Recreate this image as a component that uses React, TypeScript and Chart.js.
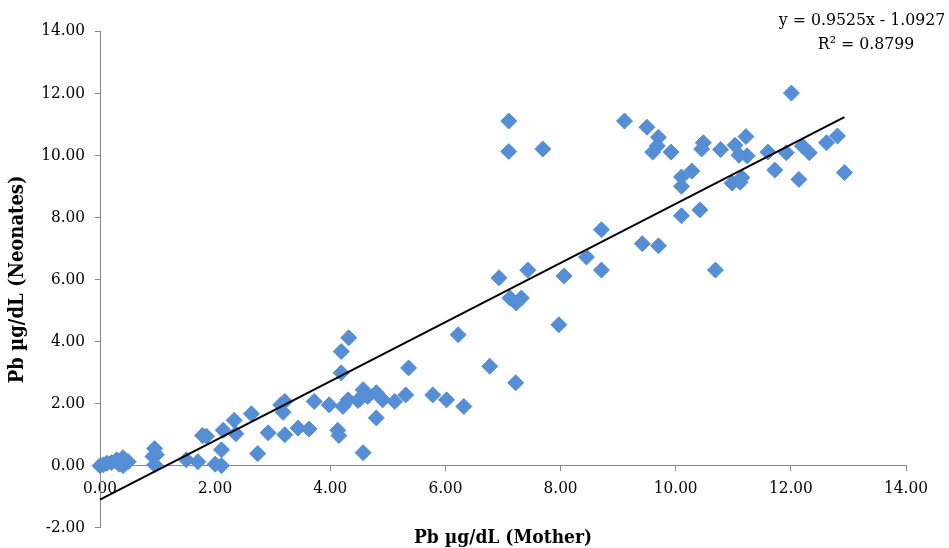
import React, { useEffect, useRef } from "react";
import { Chart, registerables } from "chart.js";

Chart.register(...registerables);

const motherPb: number[] = [
  0.0, 0.06, 0.12, 0.2, 0.29, 0.33, 0.4, 0.4, 0.49, 0.92, 0.95, 0.95, 0.98,
  1.5, 1.7, 1.78, 1.85, 2.0, 2.11, 2.11, 2.14, 2.33, 2.36, 2.63, 2.74, 2.92,
  3.14, 3.18, 3.21, 3.21, 3.44, 3.63, 3.72, 3.98, 4.13, 4.15, 4.19, 4.19, 4.22,
  4.31, 4.32, 4.48, 4.51, 4.57, 4.57, 4.65, 4.8, 4.8, 4.91, 5.12, 5.31, 5.36,
  5.78, 6.02, 6.22, 6.32, 6.77, 6.93, 7.1, 7.1, 7.12, 7.23, 7.22, 7.32, 7.43,
  7.69, 7.97, 8.06, 8.45, 8.71, 8.71, 9.11, 9.42, 9.5, 9.6, 9.68, 9.7, 9.7,
  9.92, 10.1, 10.1, 10.1, 10.28, 10.42, 10.45, 10.48, 10.69, 10.78, 10.98,
  11.03, 11.1, 11.12, 11.15, 11.22, 11.24, 11.6, 11.72, 11.92, 12.01, 12.14,
  12.2, 12.32, 12.62, 12.81, 12.93,
];

const neonatePb: number[] = [
  0.0, 0.03, 0.08, 0.1, 0.19, 0.05, 0.26, 0.0, 0.13, 0.3, 0.03, 0.55, 0.35,
  0.19, 0.13, 0.97, 0.95, 0.05, 0.0, 0.51, 1.14, 1.46, 1.03, 1.67, 0.39, 1.06,
  1.96, 1.72, 2.07, 1.0, 1.21, 1.18, 2.07, 1.96, 1.14, 0.97, 3.68, 2.99, 1.91,
  2.12, 4.12, 2.1, 2.15, 2.45, 0.42, 2.23, 2.35, 1.54, 2.12, 2.07, 2.28, 3.15,
  2.28, 2.12, 4.22, 1.91, 3.2, 6.05, 11.1, 10.12, 5.4, 5.24, 2.67, 5.4, 6.3,
  10.2, 4.54, 6.11, 6.72, 7.6, 6.3, 11.1, 7.15, 10.9, 10.1, 10.3, 10.58, 7.08,
  10.1, 9.3, 9.0, 8.05, 9.49, 8.24, 10.2, 10.4, 6.3, 10.18, 9.1, 10.32, 10.0,
  9.13, 9.28, 10.6, 9.98, 10.1, 9.52, 10.08, 12.0, 9.22, 10.3, 10.08, 10.4,
  10.62, 9.44,
];

const trendSlope = 0.9525;
const trendIntercept = -1.0927;
const trendR2 = 0.8799;

const xTitle = "Pb µg/dL (Mother)";
const yTitle = "Pb µg/dL (Neonates)";
const eqLine1 = "y = 0.9525x - 1.0927";
const eqLine2 = "R² = " + trendR2.toFixed(4);

const FONT = '"DejaVu Serif Condensed", "DejaVu Serif", "Liberation Serif", serif';

const trendLabel = {
  id: "trendLabel",
  afterDraw(chart: any) {
    const ctx = chart.ctx;
    const a = chart.chartArea;
    ctx.save();
    ctx.font = "17.5px " + FONT;
    ctx.fillStyle = "#000";
    ctx.textAlign = "center";
    ctx.textBaseline = "middle";
    ctx.fillText(eqLine1, a.right - 44, 20);
    ctx.fillText(eqLine2, a.right - 40, 44);
    ctx.restore();
  },
};

export default function App() {
  const ref = useRef<HTMLCanvasElement | null>(null);

  useEffect(() => {
    if (!ref.current) return;
    const pts = motherPb.map((x, i) => ({ x, y: neonatePb[i] }));
    const xMin = Math.min(...motherPb);
    const xMax = Math.max(...motherPb);
    const trend = [
      { x: xMin, y: trendSlope * xMin + trendIntercept },
      { x: xMax, y: trendSlope * xMax + trendIntercept },
    ];
    const chart = new Chart(ref.current, {
      type: "scatter",
      data: {
        datasets: [
          {
            type: "line",
            label: "trend",
            data: trend,
            borderColor: "#000",
            borderWidth: 2,
            pointRadius: 0,
            fill: false,
            order: 0,
            clip: false,
          } as any,
          {
            label: "Pb",
            data: pts,
            pointStyle: "rectRot",
            pointRadius: 8,
            pointHoverRadius: 8,
            backgroundColor: "#558ED5",
            borderColor: "#558ED5",
            borderWidth: 1,
            order: 1,
            clip: false,
          } as any,
        ],
      },
      options: {
        animation: false,
        responsive: false,
        events: [],
        layout: { padding: { top: 31, right: 43, left: 0, bottom: 0 } },
        plugins: {
          legend: { display: false },
          tooltip: { enabled: false },
          title: {
            display: true,
            position: "bottom",
            fullSize: false,
            text: xTitle,
            color: "#000",
            font: { family: FONT, size: 19, weight: "bold", lineHeight: 1.05 },
            padding: { top: 0, bottom: 0 },
          },
        },
        scales: {
          x: {
            type: "linear",
            min: 0,
            max: 14,
            position: { y: 0 } as any,
            ticks: {
              stepSize: 2,
              color: "#000",
              padding: 8,
              font: { family: FONT, size: 17 },
              callback: (v: any) => Number(v).toFixed(2),
              maxRotation: 0,
            },
            grid: {
              drawOnChartArea: false,
              drawTicks: true,
              tickLength: 5,
              color: "#868686",
            },
            border: { display: true, color: "#868686", width: 1 },
          },
          y: {
            type: "linear",
            min: -2,
            max: 14,
            ticks: {
              stepSize: 2,
              color: "#000",
              padding: 10,
              font: { family: FONT, size: 17 },
              callback: (v: any) => Number(v).toFixed(2),
            },
            grid: {
              drawOnChartArea: false,
              drawTicks: true,
              tickLength: 5,
              color: "#868686",
            },
            border: { display: true, color: "#868686", width: 1 },
            title: {
              display: true,
              text: yTitle,
              color: "#000",
              font: { family: FONT, size: 20, weight: "bold" },
              padding: { top: 6, bottom: 0 },
            },
            afterFit: (scale: any) => {
              scale.width = 100;
            },
          },
        },
      },
      plugins: [trendLabel],
    });
    return () => chart.destroy();
  }, []);

  return (
    <div style={{ position: "absolute", left: 0, top: 0, width: 949, height: 548, background: "#fff" }}>
      <canvas ref={ref} width={949} height={548} />
    </div>
  );
}
